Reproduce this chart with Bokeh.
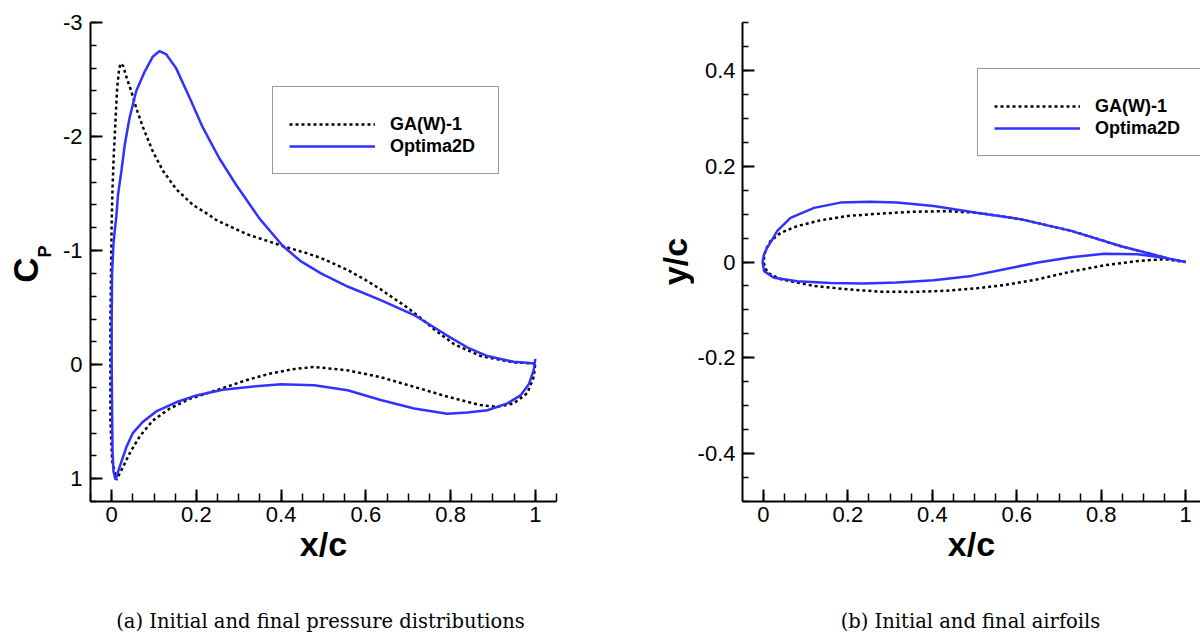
import numpy as np
from bokeh.plotting import figure
from bokeh.layouts import row, column
from bokeh.models import Range1d, FixedTicker, Legend, LegendItem, Label
from bokeh.embed import file_html
from bokeh.resources import INLINE

# ---------------- data ----------------
# Pressure coefficient, GA(W)-1 : suction side from stagnation point to trailing edge
ga_cp_up_x = [0.011, 0.001, -0.003, -0.003, 0.0, 0.002, 0.005, 0.009, 0.013, 0.017, 0.0205, 0.027,
              0.035, 0.046, 0.058, 0.074, 0.097, 0.121, 0.152, 0.192, 0.231, 0.246, 0.318, 0.404,
              0.462, 0.494, 0.557, 0.598, 0.635, 0.698, 0.722, 0.761, 0.808, 0.871, 0.949, 1.0]
ga_cp_up = [1.01, 0.84, 0.49, -0.39, -1.26, -1.55, -1.84, -2.14, -2.43, -2.57, -2.64, -2.62,
            -2.52, -2.40, -2.25, -2.08, -1.87, -1.70, -1.54, -1.40, -1.31, -1.27, -1.145, -1.04,
            -0.975, -0.935, -0.83, -0.745, -0.66, -0.50, -0.43, -0.31, -0.18, -0.075, -0.02, -0.01]
# GA(W)-1 : pressure side from stagnation point to trailing edge
ga_cp_lo_x = [0.011, 0.027, 0.042, 0.066, 0.097, 0.137, 0.184, 0.247, 0.317, 0.372, 0.40, 0.427,
              0.478, 0.557, 0.635, 0.714, 0.792, 0.871, 0.910, 0.949, 0.981, 0.996, 1.0]
ga_cp_lo = [1.01, 0.895, 0.78, 0.63, 0.49, 0.385, 0.30, 0.225, 0.137, 0.08, 0.06, 0.04,
            0.02, 0.05, 0.11, 0.195, 0.28, 0.355, 0.37, 0.34, 0.25, 0.11, -0.01]

# Optima2D : suction side
opt_cp_up_x = [0.009, 0.004, 0.002, 0.001, 0.0, 0.0, 0.001, 0.004, 0.008, 0.011, 0.015, 0.023,
               0.031, 0.042, 0.058, 0.078, 0.097, 0.113, 0.129, 0.152, 0.184, 0.215, 0.254, 0.294,
               0.349, 0.404, 0.447, 0.494, 0.557, 0.635, 0.714, 0.753, 0.792, 0.840, 0.887, 0.949, 1.0]
opt_cp_up = [1.01, 0.93, 0.75, 0.4, 0.0, -0.4, -0.8, -1.05, -1.2, -1.30, -1.49, -1.70,
             -1.93, -2.16, -2.40, -2.57, -2.70, -2.75, -2.72, -2.60, -2.34, -2.08, -1.81, -1.575,
             -1.28, -1.04, -0.905, -0.80, -0.685, -0.565, -0.435, -0.345, -0.255, -0.15, -0.075, -0.025, -0.01]
# Optima2D : pressure side
opt_cp_lo_x = [0.009, 0.019, 0.035, 0.050, 0.074, 0.105, 0.152, 0.2, 0.262, 0.341, 0.40, 0.478,
               0.557, 0.635, 0.714, 0.792, 0.840, 0.887, 0.934, 0.965, 0.985, 0.996, 1.0]
opt_cp_lo = [1.01, 0.895, 0.72, 0.60, 0.50, 0.41, 0.33, 0.27, 0.22, 0.19, 0.172, 0.18,
             0.225, 0.31, 0.385, 0.43, 0.42, 0.40, 0.34, 0.27, 0.17, 0.05, -0.05]

# Airfoil geometry, GA(W)-1
ga_up_x = [0.0, 0.005, 0.017, 0.041, 0.080, 0.135, 0.198, 0.277, 0.355, 0.434, 0.505, 0.611,
           0.729, 0.847, 0.965, 1.0]
ga_up_y = [0.0, 0.025, 0.044, 0.061, 0.075, 0.087, 0.096, 0.101, 0.105, 0.106, 0.103, 0.089,
           0.065, 0.033, 0.006, 0.0]
ga_lo_x = [0.0, 0.009, 0.041, 0.12, 0.198, 0.277, 0.355, 0.434, 0.505, 0.571, 0.650, 0.729,
           0.807, 0.886, 0.949, 1.0]
ga_lo_y = [0.0, -0.022, -0.036, -0.050, -0.057, -0.062, -0.0625, -0.060, -0.055, -0.048, -0.036,
           -0.020, -0.007, 0.002, 0.006, 0.0]
# Airfoil geometry, Optima2D
opt_up_x = [-0.002, 0.0016, 0.009, 0.021, 0.033, 0.064, 0.12, 0.182, 0.253, 0.316, 0.403, 0.505,
            0.611, 0.729, 0.847, 0.965, 1.0]
opt_up_y = [0.0, 0.016, 0.030, 0.047, 0.065, 0.092, 0.113, 0.124, 0.126, 0.124, 0.117, 0.103,
            0.089, 0.065, 0.033, 0.006, 0.0]
opt_lo_x = [-0.002, 0.0016, 0.025, 0.080, 0.159, 0.237, 0.316, 0.403, 0.493, 0.571, 0.650, 0.729,
            0.807, 0.886, 0.949, 1.0]
opt_lo_y = [0.0, -0.019, -0.033, -0.040, -0.044, -0.045, -0.043, -0.038, -0.029, -0.015, -0.001,
            0.010, 0.017, 0.016, 0.009, 0.0]

series_names = ["GA(W)-1", "Optima2D"]

x_tick_vals = [0, 0.2, 0.4, 0.6, 0.8, 1.0]
x_tick_labels = ["0", "0.2", "0.4", "0.6", "0.8", "1"]
cp_tick_vals = [-3, -2, -1, 0, 1]
cp_tick_labels = ["-3", "-2", "-1", "0", "1"]
yc_tick_vals = [-0.4, -0.2, 0, 0.2, 0.4]
yc_tick_labels = ["-0.4", "-0.2", "0", "0.2", "0.4"]

captions = ["(a) Initial and final pressure distributions", "(b) Initial and final airfoils"]

# ---------------- styling ----------------
BLUE = "#3232ff"
FONT = "Liberation Sans"
DOT = dict(line_color="black", line_width=2.5, line_dash="3 3")
SOLID = dict(line_color=BLUE, line_width=2.5)
PLOT_H = 580
CAP_H = 633 - PLOT_H


def loop(up_x, up_y, lo_x, lo_y):
    xs = list(up_x[::-1]) + list(lo_x[1:])
    ys = list(up_y[::-1]) + list(lo_y[1:])
    return xs, ys


def style_axis(ax, vals, labels, minor, minor_len):
    ax.ticker = FixedTicker(ticks=vals, minor_ticks=minor)
    ax.major_label_overrides = dict(zip(vals, labels))
    ax.axis_line_width = 2
    ax.axis_line_color = "black"
    ax.major_tick_in = 12
    ax.major_tick_out = 0
    ax.minor_tick_in = minor_len
    ax.minor_tick_out = 0
    ax.major_tick_line_width = 2
    ax.minor_tick_line_width = 1.5
    ax.major_tick_line_color = "black"
    ax.minor_tick_line_color = "black"
    ax.major_label_text_font = FONT
    ax.major_label_text_font_size = "22px"
    ax.major_label_text_color = "black"


def make_fig(w, xr, yr, bl, br):
    p = figure(width=w, height=PLOT_H, x_range=xr, y_range=yr, output_backend="svg",
               toolbar_location=None, min_border_left=bl, min_border_right=br,
               min_border_top=22, min_border_bottom=PLOT_H - 501, frame_align=False)
    p.grid.visible = False
    p.outline_line_color = None
    p.background_fill_color = "white"
    p.border_fill_color = "white"
    return p


def text_fig(w, h):
    # an axis-less canvas used only to hold text labels
    t = figure(width=w, height=h, x_range=Range1d(0, 1), y_range=Range1d(0, 1),
               x_axis_type=None, y_axis_type=None, output_backend="svg",
               toolbar_location=None, min_border=0, frame_align=False)
    t.grid.visible = False
    t.outline_line_color = None
    t.background_fill_color = "white"
    t.border_fill_color = "white"
    return t


def add_legend(p, r1, r2, loc):
    leg = Legend(items=[LegendItem(label=series_names[0], renderers=[r1]),
                        LegendItem(label=series_names[1], renderers=[r2])],
                 location=loc, padding=16, spacing=0, glyph_width=86, glyph_height=22,
                 label_height=22, label_width=92, label_standoff=15, label_text_font=FONT,
                 label_text_font_style="bold", label_text_font_size="18px",
                 label_text_color="black",
                 border_line_color="#333333", border_line_width=1.2,
                 background_fill_color="white", background_fill_alpha=1.0,
                 title=" ", title_text_font_size="8px", title_standoff=1, margin=0)
    p.add_layout(leg)


def x_axis(p):
    style_axis(p.xaxis[0], x_tick_vals, x_tick_labels,
               [round(v, 2) for v in np.arange(-0.05, 1.0501, 0.05)], 8)
    p.xaxis.axis_label = "x/c"
    p.xaxis.axis_label_text_font = FONT
    p.xaxis.axis_label_text_font_style = "bold"
    p.xaxis.axis_label_text_font_size = "34px"
    p.xaxis.axis_label_text_color = "black"
    p.xaxis.axis_label_standoff = 0
    p.xaxis.major_label_standoff = 5


def vlabel(t, x, y, txt, size):
    # x, y give the middle of the (rotated) text box
    t.add_layout(Label(x=x, y=y, x_units="screen", y_units="screen", text=txt,
                       angle=np.pi / 2, text_align="center", text_baseline="middle",
                       text_font=FONT, text_font_style="bold", text_font_size=size,
                       text_color="black"))


def caption(t, x, txt):
    t.add_layout(Label(x=x, y=12, x_units="screen", y_units="screen", text=txt,
                       text_align="center", text_baseline="middle",
                       text_font="DejaVu Serif", text_font_size="19.5px", text_color="black"))


# ---------------- left: pressure distributions ----------------
LAB1_W = 55
p1 = make_fig(600 - LAB1_W, Range1d(-0.05, 1.05), Range1d(1.2, -3.0), 90 - LAB1_W, 44)
gx, gy = loop(ga_cp_up_x, ga_cp_up, ga_cp_lo_x, ga_cp_lo)
ox, oy = loop(opt_cp_up_x, opt_cp_up, opt_cp_lo_x, opt_cp_lo)
r_ga1 = p1.line(gx, gy, **DOT)
r_op1 = p1.line(ox, oy, **SOLID)
x_axis(p1)
style_axis(p1.yaxis[0], cp_tick_vals, cp_tick_labels,
           [round(v, 2) for v in np.arange(-3.0, 1.201, 0.2)], 6)
p1.yaxis.major_label_standoff = 8
add_legend(p1, r_ga1, r_op1, (182, 327))

lab1 = text_fig(LAB1_W, PLOT_H)
vlabel(lab1, 25, PLOT_H - 269.5, "C", "35px")
vlabel(lab1, 44, PLOT_H - 251, "P", "18px")

cap1 = text_fig(600, CAP_H)
caption(cap1, 320, captions[0])

# ---------------- right: airfoils ----------------
LAB2_W = 94
p2 = make_fig(600 - LAB2_W, Range1d(-0.0495, 1.035), Range1d(-0.5, 0.5), 140 - LAB2_W, 0)
ax_g, ay_g = loop(ga_up_x, ga_up_y, ga_lo_x, ga_lo_y)
ax_o, ay_o = loop(opt_up_x, opt_up_y, opt_lo_x, opt_lo_y)
r_ga2 = p2.line(ax_g, ay_g, **DOT)
r_op2 = p2.line(ax_o, ay_o, **SOLID)
x_axis(p2)
style_axis(p2.yaxis[0], yc_tick_vals, yc_tick_labels,
           [round(v, 2) for v in np.arange(-0.5, 0.501, 0.05)], 6)
p2.yaxis.major_label_standoff = 7
add_legend(p2, r_ga2, r_op2, (235, 345))

lab2 = text_fig(LAB2_W, PLOT_H)
vlabel(lab2, 74, PLOT_H - 261, "y/c", "34px")

cap2 = text_fig(600, CAP_H)
caption(cap2, 370, captions[1])

left = column(row(lab1, p1, spacing=0), cap1, spacing=0)
right = column(row(lab2, p2, spacing=0), cap2, spacing=0)
layout = row(left, right, spacing=0)
open("out.html", "w").write(file_html(layout, INLINE))
